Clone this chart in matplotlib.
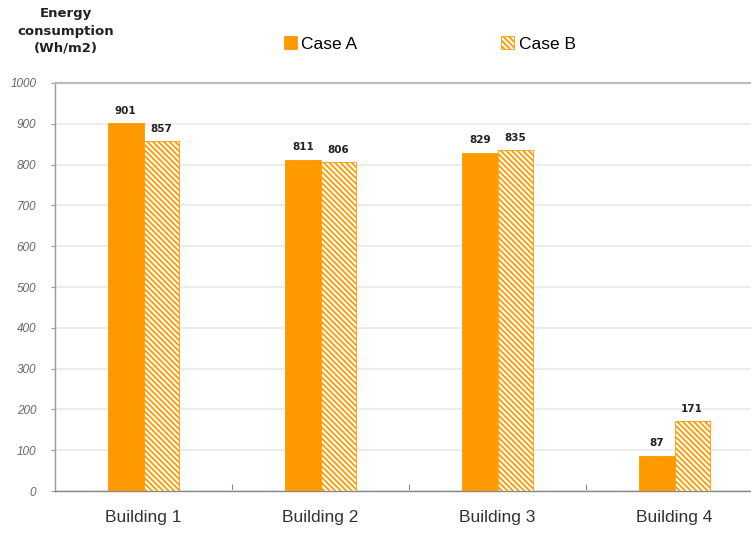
import numpy as np
import matplotlib
matplotlib.use('Agg')
import matplotlib.pyplot as plt
from matplotlib.patches import Patch

# ---------------------------------------------------------------------------
buildings = ['Building 1', 'Building 2', 'Building 3', 'Building 4']
case_a    = [901, 811, 829, 87]
case_b    = [857, 806, 835, 171]
series    = ['Case A', 'Case B']
y_ticks   = np.arange(0, 1001, 100)

ORANGE = '#ff9900'
HATCH  = '\\' * 6
W      = 0.2

plt.rcParams['hatch.linewidth'] = 1.3

fig = plt.figure(figsize=(7.51, 5.33), dpi=100)
ax  = fig.add_axes([55 / 751, 42 / 533, 696 / 751, 408 / 533])

x = np.arange(len(buildings))
bars_a = ax.bar(x - W / 2, case_a, W, color=ORANGE, edgecolor=ORANGE, lw=0.6, zorder=3)
bars_b = ax.bar(x + W / 2, case_b, W, facecolor='white', edgecolor=ORANGE,
                hatch=HATCH, lw=0.6, zorder=3)

# value labels
for bars, vals in [(bars_a, case_a), (bars_b, case_b)]:
    for b, v in zip(bars, vals):
        ax.annotate(f'{v}', (b.get_x() + b.get_width() / 2, v),
                    xytext=(0, 5.5), textcoords='offset points',
                    ha='center', va='bottom', fontsize=7.5, fontweight='bold',
                    color='#222222')

ax.set_ylim(0, 1000)
ax.set_xlim(-0.5, -0.5 + 696 / 177)
ax.set_yticks(y_ticks)
ax.set_yticklabels([str(v) for v in y_ticks], fontstyle='italic',
                   family='Liberation Sans', fontsize=8.5, color='#666666')
ax.tick_params(axis='y', length=3, width=0.8, color='#999999', pad=10.5)
ax.yaxis.grid(True, color='#ececec', lw=1.4, zorder=0)

ax.set_xticks(x)
ax.set_xticklabels(buildings, family='Liberation Sans', fontsize=12.5, color='#333333')
ax.tick_params(axis='x', length=0, pad=14)
ax.set_xticks(x[:-1] + 0.5, minor=True)
ax.tick_params(axis='x', which='minor', direction='in', length=5, width=0.8, color='#888888')

ax.spines['right'].set_visible(False)
ax.spines['top'].set_color('#bbbbbb')
ax.spines['top'].set_linewidth(1.6)
ax.spines['left'].set_color('#999999')
ax.spines['bottom'].set_color('#888888')
ax.spines['left'].set_linewidth(1.0)
ax.spines['bottom'].set_linewidth(1.0)

fig.text(66 / 751, 1 - 31 / 533, 'Energy\nconsumption\n(Wh/m2)', ha='center', va='center',
         fontsize=9.5, fontweight='bold', color='#222222', linespacing=1.4)

handles = [Patch(facecolor=ORANGE, edgecolor=ORANGE, lw=0.6),
           Patch(facecolor='white', edgecolor=ORANGE, hatch=HATCH, lw=0.6)]
fig.legend(handles, series, loc='center left', bbox_to_anchor=(268 / 751, 1 - 44 / 533),
           ncol=2, frameon=False, handlelength=0.75, handleheight=0.75,
           handletextpad=0.25, columnspacing=8.3,
           prop={'family': 'Liberation Sans', 'size': 12.5})

fig.savefig('out.png', dpi=100)
